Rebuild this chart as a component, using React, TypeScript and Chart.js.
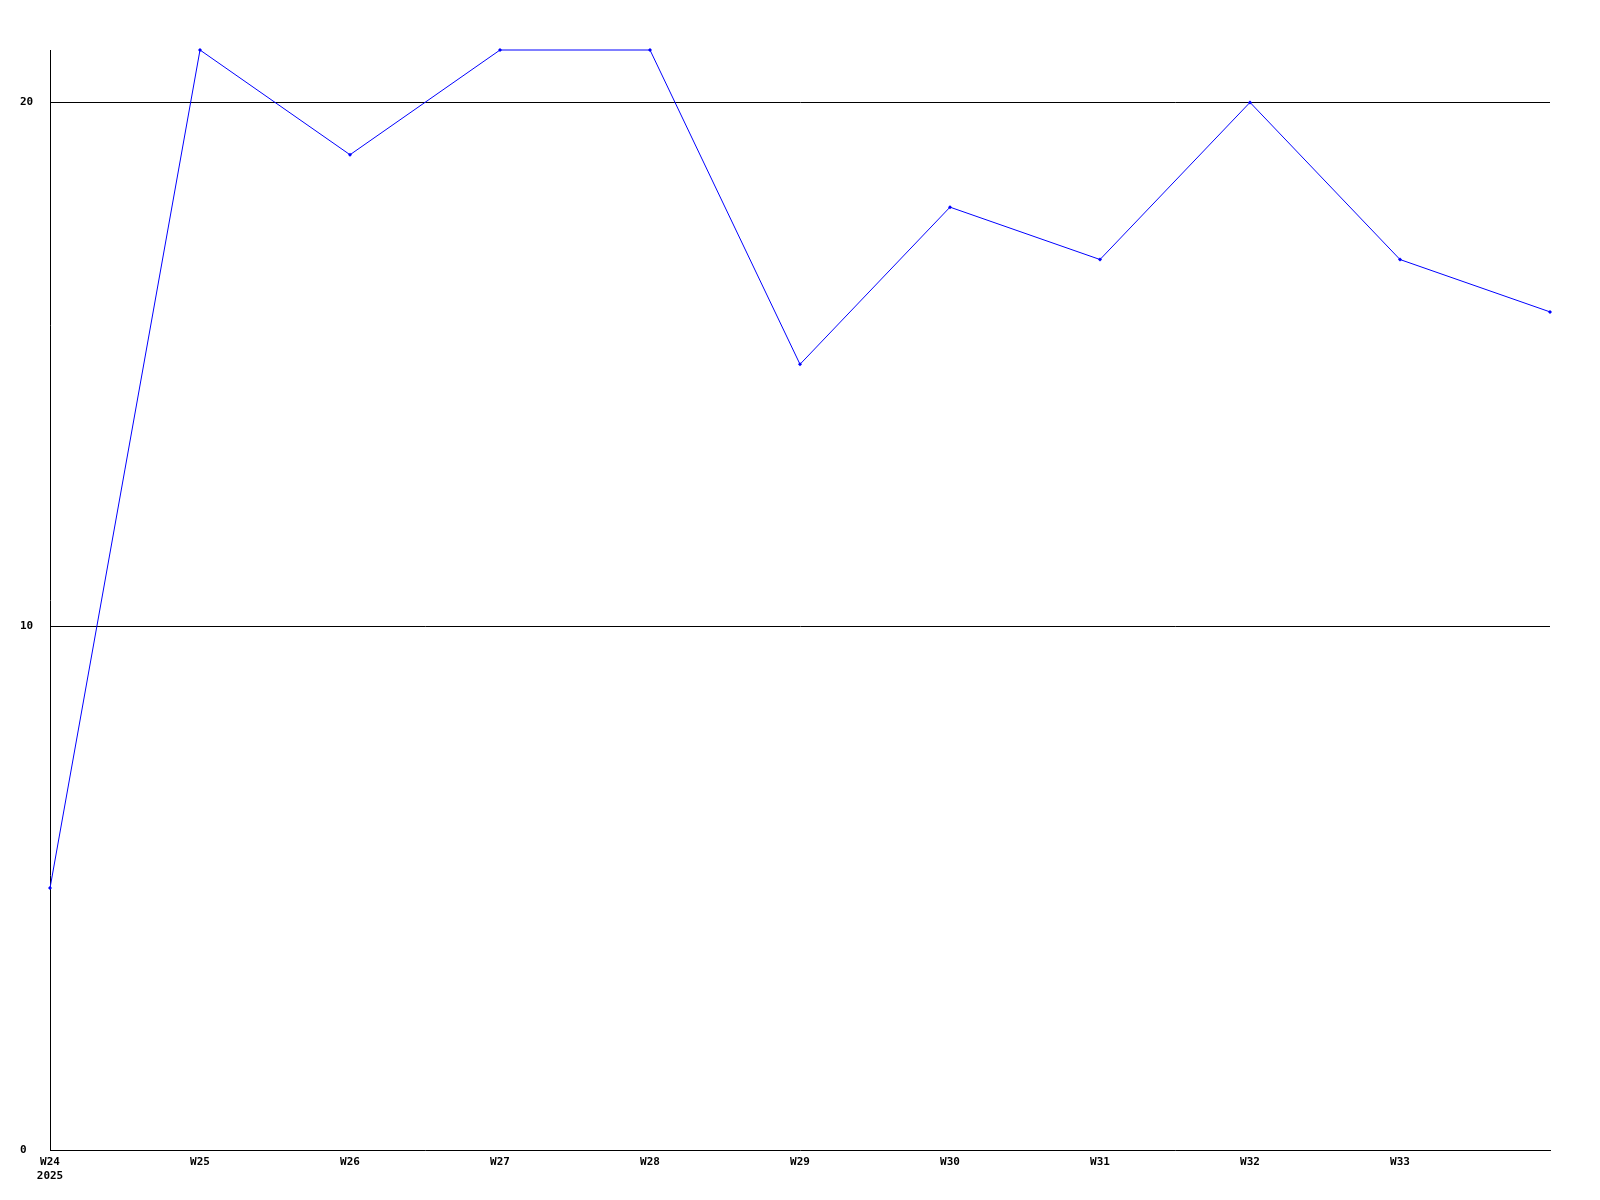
import React, { useEffect, useRef } from "react";
import { Chart, registerables } from "chart.js";

Chart.register(...registerables);

const weeks = ["W24", "W25", "W26", "W27", "W28", "W29", "W30", "W31", "W32", "W33", "W34"];
const tickLabels = ["W24", "W25", "W26", "W27", "W28", "W29", "W30", "W31", "W32", "W33", ""];
const yearLabel = "2025";
const values = [5, 21, 19, 21, 21, 15, 18, 17, 20, 17, 16];
const yTicks = [0, 10, 20];
const yMax = 21;

export default function App() {
  const ref = useRef<HTMLCanvasElement | null>(null);
  useEffect(() => {
    if (!ref.current) return;
    const font = { family: "'DejaVu Sans Mono', monospace", size: 11, weight: "bold" as const };
    const chart = new Chart(ref.current, {
      type: "line",
      data: {
        labels: weeks,
        datasets: [
          {
            data: values,
            borderColor: "#0000ff",
            backgroundColor: "#0000ff",
            borderWidth: 1,
            pointStyle: "rectRot",
            pointRadius: 2,
            pointHoverRadius: 2,
            pointBorderWidth: 0,
            tension: 0,
            fill: false,
            clip: false as any,
          },
        ],
      },
      options: {
        responsive: false,
        animation: false,
        events: [],
        layout: { padding: { top: 50, right: 50, left: 20, bottom: 0 } },
        plugins: { legend: { display: false }, tooltip: { enabled: false } },
        scales: {
          x: {
            type: "category",
            offset: false,
            grid: { display: false, drawTicks: false },
            border: { display: true, color: "#000", width: 1 },
            ticks: {
              color: "#000",
              font,
              padding: 6,
              maxRotation: 0,
              autoSkip: false,
              callback: (_v: any, i: number) => (i === 0 ? [tickLabels[i], yearLabel] : tickLabels[i]),
            },
            afterFit: (s: any) => {
              s.height = 50;
            },
          },
          y: {
            min: 0,
            max: yMax,
            grid: {
              color: (ctx: any) => (ctx.tick && ctx.tick.value === 0 ? "rgba(0,0,0,0)" : "#000"),
              lineWidth: 1,
              drawTicks: false,
            },
            border: { display: true, color: "#000", width: 1 },
            afterBuildTicks: (s: any) => {
              s.ticks = yTicks.map((v) => ({ value: v }));
            },
            ticks: { color: "#000", font, padding: 16, crossAlign: "far" },
            afterFit: (s: any) => {
              s.width = 30;
            },
          },
        },
      },
    });
    return () => chart.destroy();
  }, []);
  return (
    <div style={{ position: "absolute", left: 0, top: 0, width: 1600, height: 1200, background: "#fff" }}>
      <canvas ref={ref} width={1600} height={1200} style={{ width: 1600, height: 1200, display: "block" }} />
    </div>
  );
}
